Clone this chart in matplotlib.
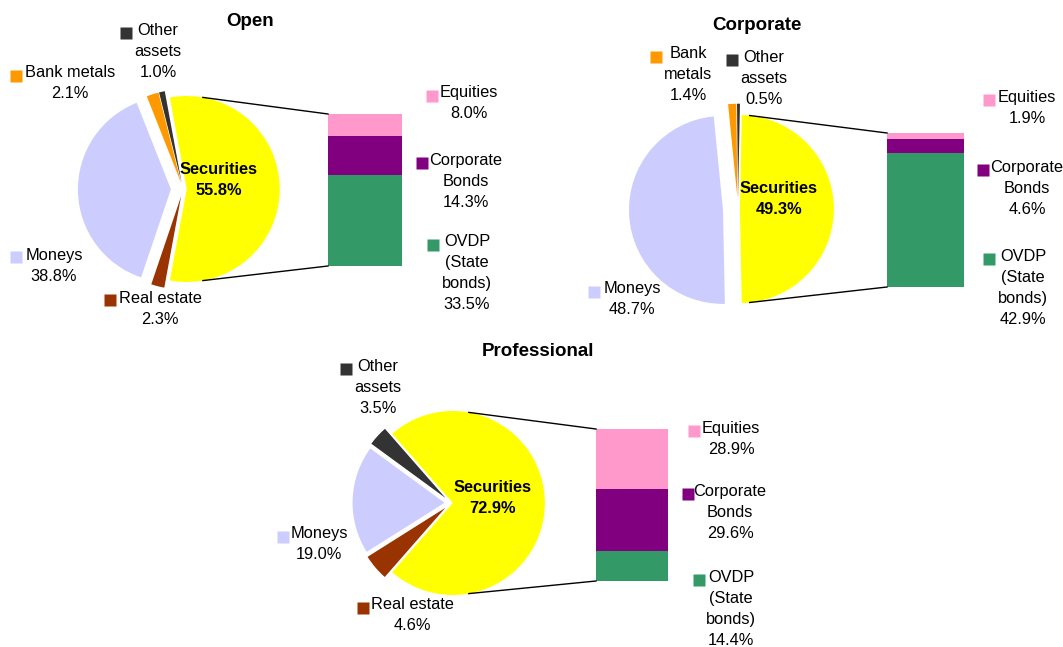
import matplotlib
matplotlib.use("Agg")
import matplotlib.pyplot as plt
import numpy as np

plt.rcParams["font.family"] = ["Liberation Sans", "DejaVu Sans"]

# pie shares, order: Securities, Other assets, Bank metals, Moneys, Real estate
open_pie = [55.8, 1.0, 2.1, 38.8, 2.3]
corp_pie = [49.3, 0.5, 1.4, 48.7, 0.0]
prof_pie = [72.9, 3.5, 0.0, 19.0, 4.6]

# securities breakdown, order: OVDP, Corporate Bonds, Equities (bottom to top)
open_bar = [33.5, 14.3, 8.0]
corp_bar = [42.9, 4.6, 1.9]
prof_bar = [14.4, 29.6, 28.9]

titles = ["Open", "Corporate", "Professional"]

pie_colors = ["#FFFF00", "#333333", "#FF9900", "#CCCCFF", "#993300"]
bar_colors = ["#339966", "#800080", "#FF99CC"]

W, H = 1063, 647
fig = plt.figure(figsize=(W / 100, H / 100), dpi=100)
ax = fig.add_axes([0, 0, 1, 1])


def Y(y):  # pixel row -> data y
    return H - y


def label(x, y, text, sq, color, bold=False, size=11.8):
    ax.text(x, Y(y) + 7, text, ha="center", va="top", fontsize=size,
            fontweight="bold" if bold else "normal", linespacing=1.5)
    if sq is not None:
        ax.plot(sq[0], Y(sq[1]), "s", ms=8, color=color, mec="none")


def bar_of_pie(vals, bvals, center, r, explode, bar_x, bar_top, bar_w, bar_h, conn):
    cx, cy = center[0], Y(center[1])
    start = -vals[0] / sum(vals) * 360 / 2
    # pie explode is in data units here
    ax.pie(vals, colors=pie_colors, startangle=start, center=(cx, cy), radius=r,
           explode=[e * r for e in explode], frame=True, wedgeprops=dict(linewidth=0))
    # stacked bar
    tot = sum(bvals)
    bottom = Y(bar_top) - bar_h
    for v, c in zip(bvals, bar_colors):
        h = v / tot * bar_h
        ax.bar(bar_x + bar_w / 2, h, width=bar_w, bottom=bottom, color=c, linewidth=0)
        bottom += h
    # connectors
    ex = explode[0] * r
    for sgn in (1, -1):
        a = np.radians(conn * sgn)
        x0 = cx + ex + r * np.cos(a)
        y0 = cy + r * np.sin(a)
        y1 = Y(bar_top) if sgn > 0 else Y(bar_top) - bar_h
        ax.plot([x0, bar_x], [y0, y1], color="black", lw=1)


# ---- Open ----
bar_of_pie(open_pie, open_bar, (183, 189), 93, [0.04, 0.07, 0.07, 0.13, 0.08],
           328, 114, 74, 152, 80)
ax.text(250, Y(22), titles[0], ha="center", va="center", fontsize=13.5, fontweight="bold")
label(219, 169, "Securities\n55.8%", None, None, bold=True)
label(158, 30, "Other\nassets\n1.0%", (126, 33), pie_colors[1])
label(70, 72, "Bank metals\n2.1%", (16, 76), pie_colors[2])
label(54, 255, "Moneys\n38.8%", (16, 257), pie_colors[3])
label(160, 298, "Real estate\n2.3%", (110, 300), pie_colors[4])
label(469, 92, "Equities\n8.0%", (432, 96), bar_colors[2])
label(466, 160, "Corporate\nBonds\n14.3%", (422, 163), bar_colors[1])
label(467, 241, "OVDP\n(State\nbonds)\n33.5%", (433, 245), bar_colors[0])

# ---- Corporate ----
bar_of_pie(corp_pie, corp_bar, (738, 209), 94, [0.02, 0.12, 0.12, 0.16, 0.1],
           887, 133, 77, 154, 84)
ax.text(757, Y(25), titles[1], ha="center", va="center", fontsize=13.5, fontweight="bold")
label(779, 188, "Securities\n49.3%", None, None, bold=True)
label(688, 53, "Bank\nmetals\n1.4%", (656, 57), pie_colors[2])
label(764, 57, "Other\nassets\n0.5%", (732, 60), pie_colors[1])
label(632, 288, "Moneys\n48.7%", (594, 292), pie_colors[3])
label(1027, 97, "Equities\n1.9%", (989, 100), bar_colors[2])
label(1027, 167, "Corporate\nBonds\n4.6%", (983, 170), bar_colors[1])
label(1023, 256, "OVDP\n(State\nbonds)\n42.9%", (989, 259), bar_colors[0])

# ---- Professional ----
bar_of_pie(prof_pie, prof_bar, (451, 503), 92, [0.02, 0.08, 0.08, 0.07, 0.08],
           596, 429, 72, 152, 80)
ax.text(538, Y(351), titles[2], ha="center", va="center", fontsize=13.5, fontweight="bold")
label(493, 487, "Securities\n72.9%", None, None, bold=True)
label(378, 366, "Other\nassets\n3.5%", (346, 369), pie_colors[1])
label(319, 533, "Moneys\n19.0%", (283, 537), pie_colors[3])
label(412, 604, "Real estate\n4.6%", (363, 608), pie_colors[4])
label(731, 428, "Equities\n28.9%", (694, 431), bar_colors[2])
label(730, 491, "Corporate\nBonds\n29.6%", (688, 494), bar_colors[1])
label(731, 577, "OVDP\n(State\nbonds)\n14.4%", (699, 580), bar_colors[0])

ax.set_xlim(0, W)
ax.set_ylim(0, H)
ax.axis("off")
fig.savefig("out.png", dpi=100)
